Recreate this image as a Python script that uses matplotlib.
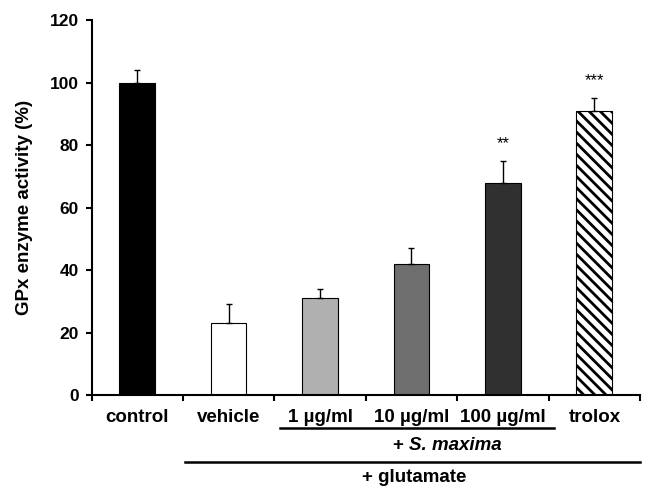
import matplotlib
matplotlib.use("Agg")
import matplotlib.pyplot as plt
import numpy as np

labels = ["control", "vehicle", "1 µg/ml", "10 µg/ml", "100 µg/ml", "trolox"]
values = [100, 23, 31, 42, 68, 91]
errors = [4, 6, 3, 5, 7, 4]
colors = ["#000000", "#ffffff", "#b0b0b0", "#6e6e6e", "#303030", "#ffffff"]
stars = ["", "", "", "", "**", "***"]

plt.rcParams['font.family'] = ['Liberation Sans', 'DejaVu Sans']
plt.rcParams['hatch.linewidth'] = 2.0

fig = plt.figure(figsize=(6.59, 4.92), dpi=100)
ax = fig.add_axes([0.1389, 0.197, 0.8323, 0.7622])

fs = 13.5
x = np.arange(len(labels))
bars = ax.bar(x, values, width=0.39, color=colors, edgecolor="black", linewidth=0.8)
bars[5].set_hatch("\\\\\\")
ax.errorbar(x, values, yerr=[np.zeros(len(values)), errors], fmt="none",
            ecolor="black", elinewidth=1, capsize=2.5, capthick=1)
for xi, v, e, s in zip(x, values, errors, stars):
    if s:
        ax.text(xi, v + e + 5.5, s, ha="center", va="center", fontsize=12)

ax.set_xlim(-0.5, 5.5)
ax.set_ylim(0, 120)
ax.set_yticks(range(0, 121, 20))
ax.set_xticks(np.arange(-0.5, 6, 1))
ax.set_xticklabels([])
ax.tick_params(axis="both", direction="out", length=4, width=1.5, labelsize=12.5, pad=5)
for t in ax.get_yticklabels():
    t.set_fontweight("bold")
for sp in ["top", "right"]:
    ax.spines[sp].set_visible(False)
ax.spines["left"].set_linewidth(1.5)
ax.spines["bottom"].set_linewidth(1.5)
ax.set_ylabel("GPx enzyme activity (%)", fontsize=fs, fontweight="bold", labelpad=12)

trans = ax.get_xaxis_transform()
for xi, lab in zip(x, labels):
    ax.text(xi, -0.061, lab, transform=trans, ha="center", va="center",
            fontsize=fs, fontweight="bold")

# group lines
ax.plot([1.56, 4.56], [-0.089, -0.089], transform=trans, color="black", lw=1.8, clip_on=False)
ax.text(2.97, -0.134, "+ ", transform=trans, ha="right", va="center", fontsize=fs, fontweight="bold")
ax.text(2.97, -0.134, "S. maxima", transform=trans, ha="left", va="center", fontsize=fs,
        fontweight="bold", style="italic")
ax.plot([0.52, 5.5], [-0.178, -0.178], transform=trans, color="black", lw=1.8, clip_on=False)
ax.text(3.03, -0.221, "+ glutamate", transform=trans, ha="center", va="center",
        fontsize=fs, fontweight="bold")

fig.savefig("out.png", dpi=100)
